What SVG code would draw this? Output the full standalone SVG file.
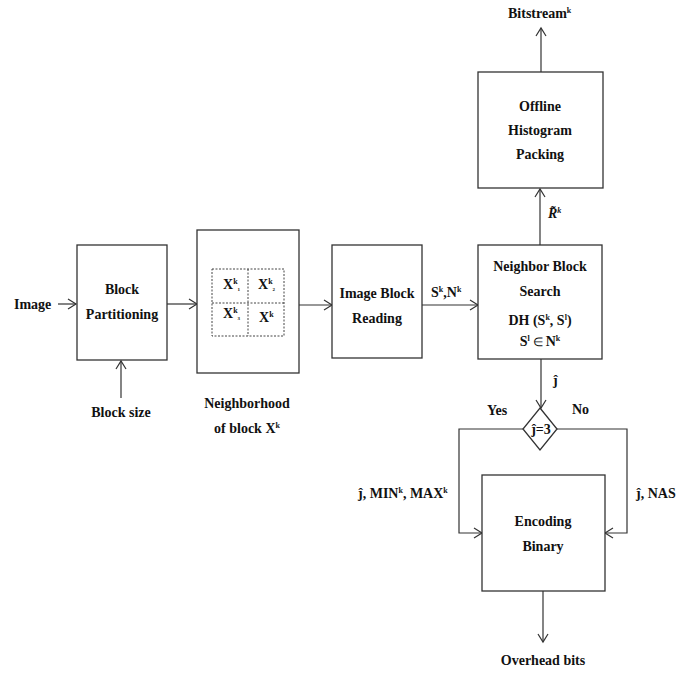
<svg xmlns="http://www.w3.org/2000/svg" width="694" height="675" viewBox="0 0 694 675">
<defs>
<marker id="arr" markerUnits="userSpaceOnUse" markerWidth="12" markerHeight="12" refX="9" refY="6" orient="auto">
<path d="M1,1 L9,6 L1,11" fill="none" stroke="#333" stroke-width="1.2"/>
</marker>
<style>
.box{fill:#fff;stroke:#333;stroke-width:1.3}
.grid{fill:none;stroke:#444;stroke-width:1;stroke-dasharray:2,1.5}
.ln{fill:none;stroke:#333;stroke-width:1.2}
text{font-family:"Liberation Serif","Times New Roman",serif;font-weight:bold;font-size:14px;fill:#111}
.c{text-anchor:middle}
.sup{font-size:8px}
.sub{font-size:5px}
.el{font-size:12px;font-weight:normal}
</style>
</defs>
<rect width="694" height="675" fill="#fff"/>

<g id="connectors">
<line class="ln" x1="58" y1="304" x2="76" y2="304" marker-end="url(#arr)"/>
<line class="ln" x1="121" y1="398" x2="121" y2="361" marker-end="url(#arr)"/>
<line class="ln" x1="167" y1="304" x2="197" y2="304" marker-end="url(#arr)"/>
<line class="ln" x1="299" y1="305" x2="332" y2="305" marker-end="url(#arr)"/>
<line class="ln" x1="422" y1="305" x2="478" y2="305" marker-end="url(#arr)"/>
<line class="ln" x1="540" y1="245" x2="540" y2="189" marker-end="url(#arr)"/>
<line class="ln" x1="541" y1="72" x2="541" y2="28" marker-end="url(#arr)"/>
<line class="ln" x1="541" y1="359" x2="541" y2="408" marker-end="url(#arr)"/>
<polyline class="ln" points="523,429 459,429 459,533 482,533" marker-end="url(#arr)"/>
<polyline class="ln" points="557,429 627,429 627,533 605,533" marker-end="url(#arr)"/>
<line class="ln" x1="543" y1="591" x2="543" y2="642" marker-end="url(#arr)"/>
</g>

<g id="image-label"><text x="14" y="309">Image</text></g>
<g id="block-size-label"><text class="c" x="121" y="417">Block size</text></g>

<g id="block-partitioning">
<rect class="box" x="77" y="245" width="90" height="115"/>
<text class="c" x="122" y="294">Block</text>
<text class="c" x="122" y="319">Partitioning</text>
</g>

<g id="neighborhood">
<rect class="box" x="197" y="230" width="102" height="143"/>
<rect class="grid" x="212" y="269" width="72" height="67"/>
<line class="grid" x1="248" y1="269" x2="248" y2="336"/>
<line class="grid" x1="212" y1="303" x2="284" y2="303"/>
<text x="223" y="289">X<tspan class="sup" dy="-5">k</tspan><tspan class="sub" dy="7">1</tspan></text>
<text x="258" y="289">X<tspan class="sup" dy="-5">k</tspan><tspan class="sub" dy="7">2</tspan></text>
<text x="223" y="318">X<tspan class="sup" dy="-5">k</tspan><tspan class="sub" dy="7">3</tspan></text>
<text x="259" y="322">X<tspan class="sup" dy="-5">k</tspan></text>
<text class="c" x="247" y="408">Neighborhood</text>
<text class="c" x="247" y="433">of block X<tspan class="sup" dy="-5">k</tspan></text>
</g>

<g id="image-block-reading">
<rect class="box" x="332" y="245" width="90" height="113"/>
<text class="c" x="377" y="298">Image Block</text>
<text class="c" x="377" y="323">Reading</text>
</g>

<g id="sk-nk-label"><text x="431" y="297">S<tspan class="sup" dy="-5">k</tspan><tspan dy="5">,N</tspan><tspan class="sup" dy="-5">k</tspan></text></g>

<g id="neighbor-block-search">
<rect class="box" x="478" y="245" width="124" height="114"/>
<text class="c" x="540" y="271">Neighbor Block</text>
<text class="c" x="540" y="296">Search</text>
<text class="c" x="540" y="325">DH (S<tspan class="sup" dy="-5">k</tspan><tspan dy="5">, S</tspan><tspan class="sup" dy="-5">l</tspan><tspan dy="5">)</tspan></text>
<text class="c" x="540" y="346">S<tspan class="sup" dy="-5">l</tspan><tspan class="el" dy="5"> ∈ </tspan><tspan>N</tspan><tspan class="sup" dy="-5">k</tspan></text>
</g>

<g id="rk-label"><text x="548" y="218" font-style="italic">R̃<tspan class="sup" dy="-5">k</tspan></text></g>

<g id="offline-histogram-packing">
<rect class="box" x="478" y="72" width="125" height="116"/>
<text class="c" x="540" y="111">Offline</text>
<text class="c" x="540" y="135">Histogram</text>
<text class="c" x="540" y="159">Packing</text>
</g>

<g id="bitstream-label"><text x="508" y="18">Bitstream<tspan class="sup" dy="-5">k</tspan></text></g>

<g id="j-label"><text x="553" y="385">ĵ</text></g>

<g id="decision">
<polygon class="box" points="540,408 557,429 540,450 523,429"/>
<text class="c" x="541" y="434">ĵ=3</text>
<text x="487" y="415">Yes</text>
<text x="572" y="414">No</text>
</g>

<g id="yes-label"><text x="358" y="498">ĵ, MIN<tspan class="sup" dy="-5">k</tspan><tspan dy="5">, MAX</tspan><tspan class="sup" dy="-5">k</tspan></text></g>
<g id="no-label"><text x="636" y="498">ĵ, NAS</text></g>

<g id="encoding-binary">
<rect class="box" x="482" y="475" width="123" height="116"/>
<text class="c" x="543" y="526">Encoding</text>
<text class="c" x="543" y="551">Binary</text>
</g>

<g id="overhead-label"><text class="c" x="543" y="665">Overhead bits</text></g>
</svg>
